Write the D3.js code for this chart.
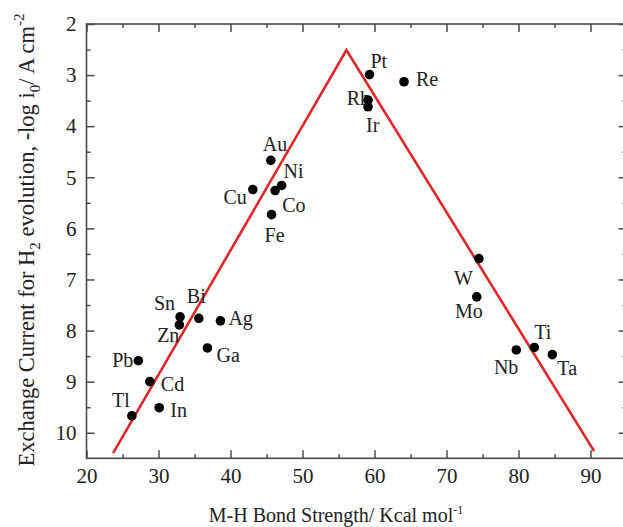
<!DOCTYPE html>
<html>
<head>
<meta charset="utf-8">
<script src="https://cdn.jsdelivr.net/npm/d3@7"></script>
<style>
  html, body { margin: 0; padding: 0; background: #fff; }
  svg { display: block; }
  text { font-family: "Liberation Serif", "Times New Roman", serif; fill: #222; }
</style>
</head>
<body>
<svg id="chart" width="623" height="527"></svg>
<script>
// ---- data ----
const metals = ["Pt","Re","Rh","Ir","Au","Ni","Co","Cu","Fe","Sn","Zn","Bi","Ag","Ga","Pb","Cd","In","Tl","W","Mo","Nb","Ti","Ta"];
const bondStrength = [59.3, 64.1, 59.1, 59.1, 45.6, 47.1, 46.2, 43.1, 45.7, 33.0, 32.9, 35.6, 38.6, 36.8, 27.2, 28.8, 30.1, 26.3, 74.5, 74.2, 79.7, 82.2, 84.7];
const logI0 = [2.99, 3.13, 3.49, 3.62, 4.67, 5.16, 5.26, 5.24, 5.73, 7.73, 7.89, 7.76, 7.81, 8.34, 8.59, 9.00, 9.51, 9.67, 6.59, 7.34, 8.38, 8.33, 8.47];
const volcanoX = [23.7, 56.1, 90.5];
const volcanoY = [10.4, 2.51, 10.36];
const xTicks = [20, 30, 40, 50, 60, 70, 80, 90];
const yTicks = [2, 3, 4, 5, 6, 7, 8, 9, 10];

// ---- label placement (layout only) ----
const labelPos = {
  Pt: [1, -7, "start"], Re: [12, 4, "start"], Rh: [2, 5, "end"], Ir: [-2, 25, "start"],
  Au: [-8, -9, "start"], Ni: [2, -7, "start"], Co: [7, 21, "start"], Cu: [-6, 14, "end"],
  Fe: [-7, 27, "start"], Sn: [-5, -7, "end"], Zn: [0, 17, "end"], Bi: [-12, -15, "start"],
  Ag: [8, 4, "start"], Ga: [9, 14, "start"], Pb: [-5, 6, "end"], Cd: [11, 9, "start"],
  In: [11, 9, "start"], Tl: [-2, -9, "end"], W: [-6, 26, "end"], Mo: [6, 21, "end"],
  Nb: [2, 24, "end"], Ti: [0, -8, "start"], Ta: [5, 20, "start"]
};

const svg = d3.select("#chart");
const pLeft = 86.5, pRight = 626.5, pTop = 24, pBottom = 458.3;
const x = d3.scaleLinear().domain([20, 95]).range([pLeft, pRight]);
const y = d3.scaleLinear().domain([2, 10.5]).range([pTop, pBottom]);

const axisColor = "#4a4a4a";
const serif = '"Liberation Serif", "Times New Roman", serif';
const minorX = d3.range(20, 95.01, 5).filter(v => v % 10 !== 0);
const minorY = d3.range(2.5, 10.5, 1);

function styleAxis(g) {
  g.attr("font-family", serif);
  g.selectAll("path").remove();
  g.selectAll("line").attr("stroke", axisColor).attr("stroke-width", 1.5);
  g.selectAll("text").style("font-size", "21px").style("font-family", serif).attr("fill", "#222");
}

// bottom
svg.append("g").attr("transform", `translate(0,${pBottom})`)
  .call(d3.axisBottom(x).tickValues(xTicks).tickSize(-8).tickPadding(10).tickFormat(d3.format("d")))
  .call(styleAxis);
svg.append("g").attr("transform", `translate(0,${pBottom})`)
  .call(d3.axisBottom(x).tickValues(minorX).tickSize(-4).tickFormat(""))
  .call(styleAxis);
// top
svg.append("g").attr("transform", `translate(0,${pTop})`)
  .call(d3.axisTop(x).tickValues(xTicks).tickSize(-8).tickFormat(""))
  .call(styleAxis);
svg.append("g").attr("transform", `translate(0,${pTop})`)
  .call(d3.axisTop(x).tickValues(minorX).tickSize(-4).tickFormat(""))
  .call(styleAxis);
// left
svg.append("g").attr("transform", `translate(${pLeft},0)`)
  .call(d3.axisLeft(y).tickValues(yTicks).tickSize(-8).tickPadding(10).tickFormat(d3.format("d")))
  .call(styleAxis);
svg.append("g").attr("transform", `translate(${pLeft},0)`)
  .call(d3.axisLeft(y).tickValues(minorY).tickSize(-4).tickFormat(""))
  .call(styleAxis);
// right
svg.append("g").attr("transform", `translate(${pRight},0)`)
  .call(d3.axisRight(y).tickValues(yTicks).tickSize(-8).tickFormat(""))
  .call(styleAxis);
svg.append("g").attr("transform", `translate(${pRight},0)`)
  .call(d3.axisRight(y).tickValues(minorY).tickSize(-4).tickFormat(""))
  .call(styleAxis);

// frame
svg.append("rect").attr("x", pLeft).attr("y", pTop)
  .attr("width", pRight - pLeft).attr("height", pBottom - pTop)
  .attr("fill", "none").attr("stroke", axisColor).attr("stroke-width", 1.6);

// volcano line
const line = d3.line().x((d, i) => x(volcanoX[i])).y((d, i) => y(volcanoY[i]));
svg.append("path").datum(volcanoX).attr("d", line)
  .attr("fill", "none").attr("stroke", "#e0262b").attr("stroke-width", 2.6)
  .attr("stroke-linejoin", "miter");

// points and labels
const pts = metals.map((m, i) => ({ m, xv: bondStrength[i], yv: logI0[i] }));
svg.append("g").selectAll("text").data(pts).join("text")
  .attr("x", d => x(d.xv) + labelPos[d.m][0])
  .attr("y", d => y(d.yv) + labelPos[d.m][1])
  .attr("text-anchor", d => labelPos[d.m][2])
  .style("font-size", "20px")
  .text(d => d.m);

svg.append("g").selectAll("circle").data(pts).join("circle")
  .attr("cx", d => x(d.xv)).attr("cy", d => y(d.yv)).attr("r", 4.8).attr("fill", "#000");

// x title
const xt = svg.append("text").attr("x", 336).attr("y", 522).attr("text-anchor", "middle").style("font-size", "20px");
xt.append("tspan").text("M-H Bond Strength/ Kcal mol");
xt.append("tspan").attr("dy", -8).style("font-size", "12px").text("-1");

// y title
const yt = svg.append("text").attr("transform", "translate(34,240) rotate(-90)")
  .attr("text-anchor", "middle").style("font-size", "22.5px");
yt.append("tspan").text("Exchange Current for H");
yt.append("tspan").attr("dy", 6).style("font-size", "15px").text("2");
yt.append("tspan").attr("dy", -6).text(" evolution, -log i");
yt.append("tspan").attr("dy", 6).style("font-size", "15px").text("0");
yt.append("tspan").attr("dy", -6).text("/ A cm");
yt.append("tspan").attr("dy", -10).style("font-size", "15px").text("-2");
</script>
</body>
</html>
